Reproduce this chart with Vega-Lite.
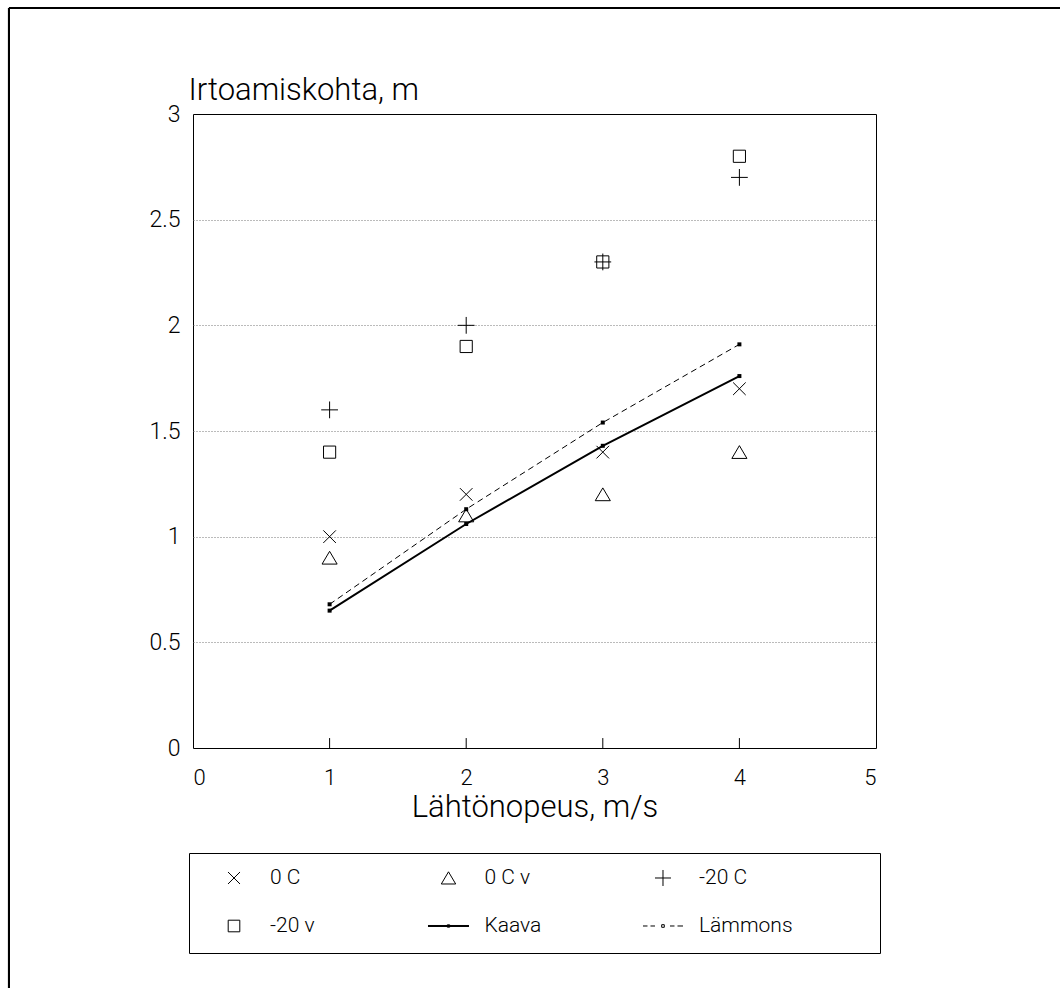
{
  "$schema": "https://vega.github.io/schema/vega-lite/v6.json",
  "background": "white",
  "padding": {"left": 7, "top": 6, "right": 0, "bottom": 0},
  "bounds": "flush",
  "spacing": 105,
  "center": true,
  "config": {
    "font": "Roboto",
    "view": {"stroke": "black", "strokeWidth": 1},
    "axis": {
      "labelFont": "Roboto",
      "labelFontWeight": 300,
      "labelColor": "black",
      "titleFont": "Roboto",
      "titleFontWeight": 300,
      "titleColor": "black"
    }
  },
  "datasets": {
    "obs": [
      {"series": "0 C", "speed": 1, "value": 1.0},
      {"series": "0 C", "speed": 2, "value": 1.2},
      {"series": "0 C", "speed": 3, "value": 1.4},
      {"series": "0 C", "speed": 4, "value": 1.7},
      {"series": "0 C v", "speed": 1, "value": 0.9},
      {"series": "0 C v", "speed": 2, "value": 1.1},
      {"series": "0 C v", "speed": 3, "value": 1.2},
      {"series": "0 C v", "speed": 4, "value": 1.4},
      {"series": "-20 C", "speed": 1, "value": 1.6},
      {"series": "-20 C", "speed": 2, "value": 2.0},
      {"series": "-20 C", "speed": 3, "value": 2.3},
      {"series": "-20 C", "speed": 4, "value": 2.7},
      {"series": "-20 v", "speed": 1, "value": 1.4},
      {"series": "-20 v", "speed": 2, "value": 1.9},
      {"series": "-20 v", "speed": 3, "value": 2.3},
      {"series": "-20 v", "speed": 4, "value": 2.8},
      {"series": "Kaava", "speed": 1, "value": 0.65},
      {"series": "Kaava", "speed": 2, "value": 1.06},
      {"series": "Kaava", "speed": 3, "value": 1.43},
      {"series": "Kaava", "speed": 4, "value": 1.76},
      {"series": "Lämmons", "speed": 1, "value": 0.68},
      {"series": "Lämmons", "speed": 2, "value": 1.13},
      {"series": "Lämmons", "speed": 3, "value": 1.54},
      {"series": "Lämmons", "speed": 4, "value": 1.91}
    ],
    "key": [
      {"series": "0 C", "col": 0, "row": 0},
      {"series": "0 C v", "col": 1, "row": 0},
      {"series": "-20 C", "col": 2, "row": 0},
      {"series": "-20 v", "col": 0, "row": 1},
      {"series": "Kaava", "col": 1, "row": 1},
      {"series": "Lämmons", "col": 2, "row": 1}
    ]
  },
  "vconcat": [
    {
      "width": 683,
      "height": 634,
      "data": {"name": "obs"},
      "encoding": {
        "x": {
          "field": "speed",
          "type": "quantitative",
          "scale": {"domain": [0, 5], "nice": false, "zero": false},
          "axis": {
            "title": "Lähtönopeus, m/s",
            "values": [0, 1, 2, 3, 4, 5],
            "format": "d",
            "domain": false,
            "ticks": false,
            "grid": false,
            "labelFontSize": 22,
            "labelPadding": 29,
            "labelBaseline": "middle",
            "titleFontSize": 31,
            "titleBaseline": "alphabetic",
            "titleY": 68
          }
        },
        "y": {
          "field": "value",
          "type": "quantitative",
          "scale": {"domain": [0, 3], "nice": false, "zero": false},
          "axis": {
            "title": "Irtoamiskohta, m",
            "values": [0, 0.5, 1, 1.5, 2, 2.5, 3],
            "format": "~g",
            "domain": false,
            "ticks": false,
            "grid": true,
            "gridColor": "#777777",
            "gridDash": [1, 2],
            "gridWidth": 1,
            "gridOpacity": {"condition": {"test": "datum.value == 0 || datum.value == 3", "value": 0}, "value": 1},
            "labelFontSize": 23,
            "labelPadding": 13,
            "titleFontSize": 31,
            "titleAngle": 0,
            "titleAlign": "left",
            "titleBaseline": "alphabetic",
            "titleX": -5,
            "titleY": -15
          }
        }
      },
      "layer": [
        {
          "mark": {"type": "rule", "color": "black", "strokeWidth": 2},
          "encoding": {
            "x": {"datum": -1.347, "type": "quantitative"},
            "x2": {"datum": 6.354},
            "y": {"datum": 3.5016, "type": "quantitative"}
          }
        },
        {
          "mark": {"type": "rule", "color": "black", "strokeWidth": 2},
          "encoding": {
            "x": {"datum": -1.347, "type": "quantitative"},
            "y": {"datum": 3.5016, "type": "quantitative"},
            "y2": {"datum": -1.1404}
          }
        },
        {
          "transform": [{"filter": {"field": "series", "equal": "Kaava"}}],
          "mark": {"type": "rule", "color": "black", "strokeWidth": 1},
          "encoding": {
            "y": {"datum": 0, "type": "quantitative"},
            "y2": {"datum": 0.047}
          }
        },
        {
          "transform": [{"filter": {"field": "series", "oneOf": ["0 C", "0 C v", "-20 C", "-20 v"]}}],
          "mark": {"type": "point", "filled": false, "color": "black", "strokeWidth": 1, "size": 440, "opacity": 1},
          "encoding": {
            "shape": {
              "field": "series",
              "type": "nominal",
              "scale": {
                "domain": ["0 C", "0 C v", "-20 C", "-20 v", "Kaava", "Lämmons"],
                "range": [
                  "M-0.6,-0.6L0.6,0.6M-0.6,0.6L0.6,-0.6",
                  "M0,-0.62L0.72,0.6L-0.72,0.6Z",
                  "M-0.8,0H0.8M0,-0.8V0.8",
                  "M-0.58,-0.58H0.58V0.58H-0.58Z",
                  "M-2.05,-0.05H2.05M-2.05,0.05H2.05M-0.12,-0.12H0.12V0.12H-0.12Z",
                  "M-2,0H-1.55M-1.25,0H-0.8M0.7,0H1.15M1.45,0H2M-0.13,-0.13H0.13V0.13H-0.13Z"
                ]
              },
              "legend": null
            }
          }
        },
        {
          "transform": [{"filter": {"field": "series", "equal": "Kaava"}}],
          "mark": {"type": "line", "color": "black", "strokeWidth": 2},
          "encoding": {}
        },
        {
          "transform": [{"filter": {"field": "series", "equal": "Lämmons"}}],
          "mark": {"type": "line", "color": "black", "strokeWidth": 1, "strokeDash": [6, 4]},
          "encoding": {}
        },
        {
          "transform": [{"filter": {"field": "series", "oneOf": ["Kaava", "Lämmons"]}}],
          "mark": {"type": "point", "shape": "square", "filled": true, "color": "black", "size": 16, "opacity": 1},
          "encoding": {}
        }
      ]
    },
    {
      "width": 691,
      "height": 100,
      "data": {"name": "key"},
      "encoding": {
        "x": {
          "field": "col",
          "type": "quantitative",
          "scale": {"domain": [-0.2098, 3.0117], "nice": false, "zero": false},
          "axis": null
        },
        "y": {
          "field": "row",
          "type": "quantitative",
          "scale": {"domain": [-0.5208, 1.5625], "reverse": true, "nice": false, "zero": false},
          "axis": null
        }
      },
      "layer": [
        {
          "mark": {"type": "point", "filled": false, "color": "black", "strokeWidth": 1, "size": 400, "opacity": 1},
          "encoding": {
            "shape": {"field": "series", "type": "nominal", "legend": null}
          }
        },
        {
          "mark": {"type": "text", "align": "left", "baseline": "middle", "dx": 36, "fontSize": 21, "font": "Roboto", "fontWeight": 300, "color": "black"},
          "encoding": {
            "text": {"field": "series", "type": "nominal"}
          }
        }
      ]
    }
  ]
}
